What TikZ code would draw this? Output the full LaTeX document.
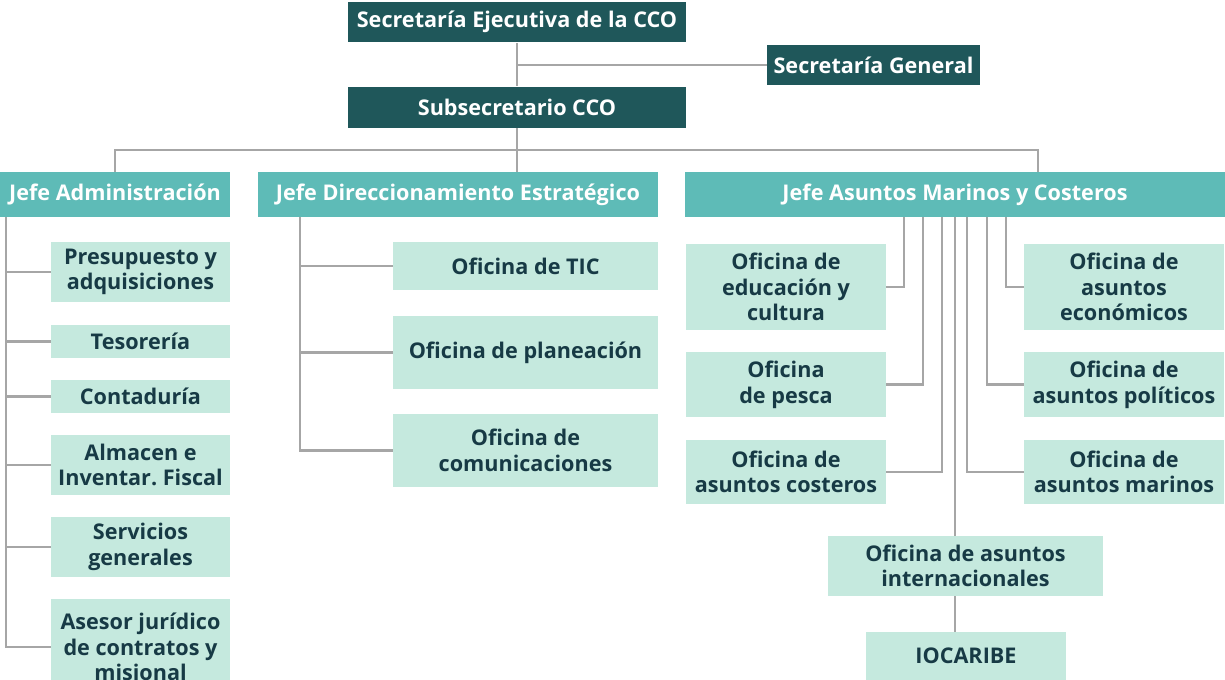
\documentclass[tikz,border=0pt]{standalone}
\usepackage{fontspec}
\setmainfont{Open Sans}
\usepackage{xcolor}
\usepackage{tikz}

\definecolor{darkteal}{HTML}{1F575A}
\definecolor{midteal}{HTML}{5EBBB7}
\definecolor{mint}{HTML}{C5E9DE}
\definecolor{inktext}{HTML}{173A45}
\definecolor{linegray}{HTML}{A6A6A6}

\tikzset{
  chartbox/.style={inner sep=0pt, align=center,
    font=\fontsize{12.3}{14.6}\selectfont\bfseries},
  topbox/.style={chartbox, fill=darkteal, text=white, minimum height=0.82cm},
  jefebox/.style={chartbox, fill=midteal, text=white, minimum height=0.9cm},
  ofibox/.style={chartbox, fill=mint, text=inktext},
  admbox/.style={ofibox, minimum width=3.58cm},
  dirbox/.style={ofibox, minimum width=5.3cm},
  marbox/.style={ofibox, minimum width=4cm},
  conn/.style={draw=linegray, line width=1.4pt}
}

\begin{document}
\begin{tikzpicture}[x=0.02cm, y=-0.02cm]
\useasboundingbox (0,0) rectangle (1225,680);

\node[topbox, minimum width=6.76cm] (sej) at (517,22) {Secretaría Ejecutiva de la CCO};
\node[topbox, minimum width=4.26cm, minimum height=0.8cm] (sgen) at (873.5,65) {Secretaría General};
\node[topbox, minimum width=6.76cm] (sub) at (517,107) {Subsecretario CCO};

\node[jefebox, minimum width=4.6cm] (ja) at (115,194.5) {Jefe Administración};
\node[jefebox, minimum width=8cm] (jd) at (458,194.5) {Jefe Direccionamiento Estratégico};
\node[jefebox, minimum width=10.8cm] (jm) at (955,194.5) {Jefe Asuntos Marinos y Costeros};

\node[admbox, minimum height=1.2cm] (pres) at (140.5,272) {Presupuesto y\\adquisiciones};
\node[admbox, minimum height=0.66cm] (teso) at (140.5,341.5) {Tesorería};
\node[admbox, minimum height=0.66cm] (cont) at (140.5,396.5) {Contaduría};
\node[admbox, minimum height=1.2cm] (alma) at (140.5,465) {Almacen e\\Inventar.\ Fiscal};
\node[admbox, minimum height=1.2cm] (serv) at (140.5,547) {Servicios\\generales};
\node[admbox, minimum height=1.92cm] (ases) at (140.5,647) {Asesor jurídico\\de contratos y\\misional};

\node[dirbox, minimum height=0.96cm] (tic) at (525.5,266) {Oficina de TIC};
\node[dirbox, minimum height=1.46cm] (plan) at (525.5,352.5) {Oficina de planeación};
\node[dirbox, minimum height=1.46cm] (comu) at (525.5,450.5) {Oficina de\\comunicaciones};

\node[marbox, minimum height=1.72cm] (edu) at (786,287) {Oficina de\\educación y\\cultura};
\node[marbox, minimum height=1.3cm] (pesca) at (786,384.5) {Oficina\\de pesca};
\node[marbox, minimum height=1.28cm] (cost) at (786,472) {Oficina de\\asuntos costeros};
\node[marbox, minimum height=1.72cm] (econ) at (1124,287) {Oficina de\\asuntos\\económicos};
\node[marbox, minimum height=1.3cm] (poli) at (1124,384.5) {Oficina de\\asuntos políticos};
\node[marbox, minimum height=1.28cm] (mari) at (1124,472) {Oficina de\\asuntos marinos};
\node[ofibox, minimum width=5.5cm, minimum height=1.2cm] (inter) at (965.5,566) {Oficina de asuntos\\internacionales};
\node[ofibox, minimum width=4cm, minimum height=0.96cm] (ioca) at (966,656) {IOCARIBE};

\coordinate (s1) at (517,65);
\coordinate (bus) at (517,150);
\coordinate (jmtop) at (1038,172);
\coordinate (a0) at (6,217);
\coordinate (d0) at (300,217);
\coordinate (m1) at (904,217);
\coordinate (m2) at (923,217);
\coordinate (m3) at (942,217);
\coordinate (m4) at (955,217);
\coordinate (m5) at (967,217);
\coordinate (m6) at (987,217);
\coordinate (m7) at (1006,217);

\draw[conn] (sej) -- (sub);
\draw[conn] (s1) -- (sgen);
\draw[conn] (sub) -- (bus |- jd.north);
\draw[conn] (ja.north) |- (bus) -| (jmtop);

\draw[conn] (a0) |- (pres);
\draw[conn] (a0) |- (teso);
\draw[conn] (a0) |- (cont);
\draw[conn] (a0) |- (alma);
\draw[conn] (a0) |- (serv);
\draw[conn] (a0) |- (ases);

\draw[conn] (d0) |- (tic);
\draw[conn] (d0) |- (plan);
\draw[conn] (d0) |- (comu);

\draw[conn] (m1) |- (edu);
\draw[conn] (m2) |- (pesca);
\draw[conn] (m3) |- (cost);
\draw[conn] (m4) -- (m4 |- inter.north);
\draw[conn] (m5) |- (mari);
\draw[conn] (m6) |- (poli);
\draw[conn] (m7) |- (econ);
\draw[conn] (m4 |- inter.south) -- (m4 |- ioca.north);
\end{tikzpicture}
\end{document}
